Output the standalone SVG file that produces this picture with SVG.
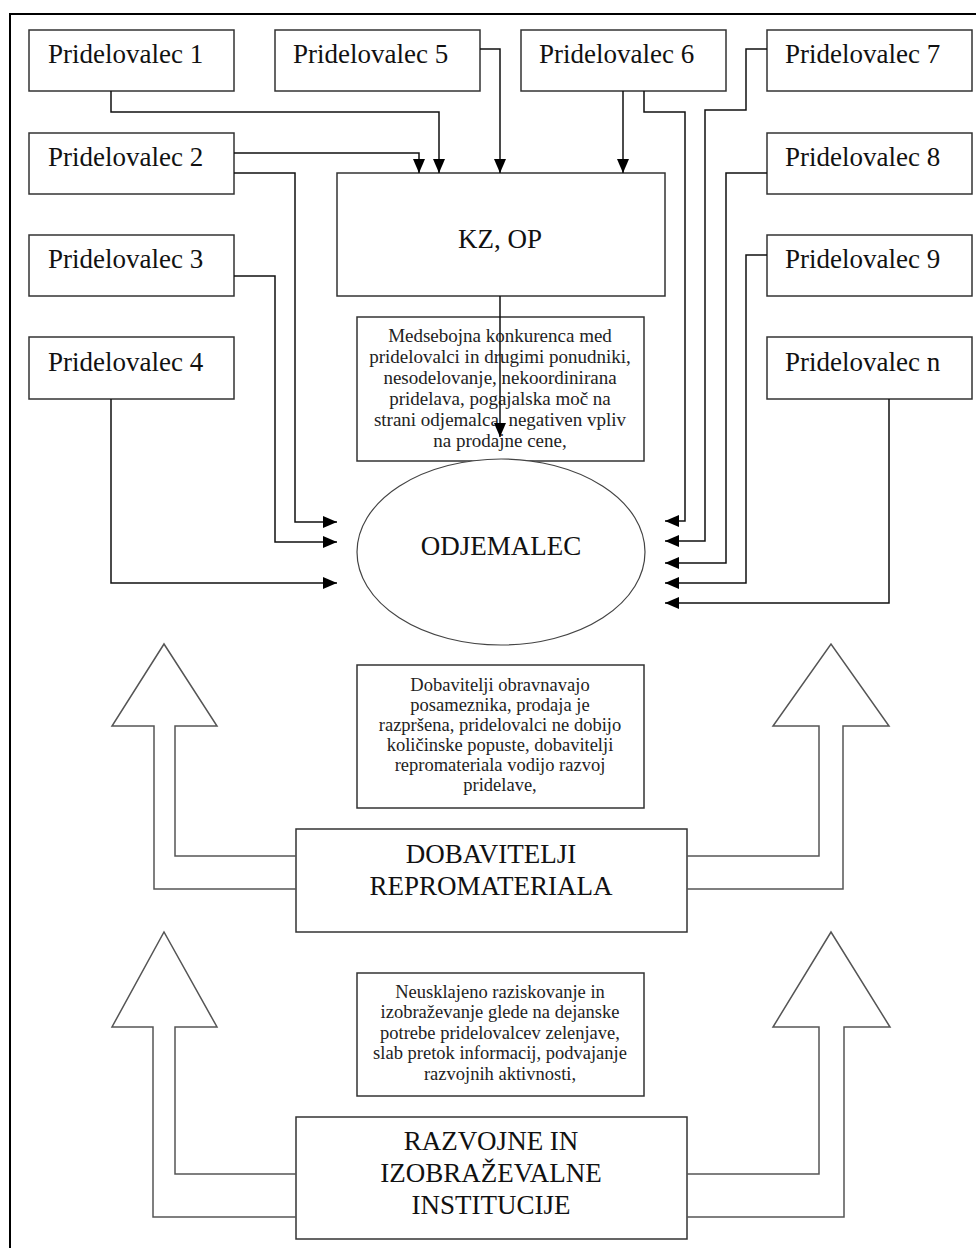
<svg xmlns="http://www.w3.org/2000/svg" width="976" height="1248" viewBox="0 0 976 1248">
<defs>
<style>
.box{fill:#fff;stroke:#333;stroke-width:1.5}
.big{fill:none;stroke:#555;stroke-width:1.5}
.con{fill:none;stroke:#111;stroke-width:1.5}
.t{font-family:"Liberation Serif","Times New Roman",serif;font-size:27px;fill:#111}
.s{font-family:"Liberation Serif","Times New Roman",serif;font-size:18.5px;fill:#222;text-anchor:middle}
.s1{font-size:19px}
.c{text-anchor:middle}
</style>
<marker id="ah" markerUnits="userSpaceOnUse" markerWidth="14" markerHeight="12" refX="14" refY="6" orient="auto">
<path d="M0,0 L14,6 L0,12 Z" fill="#000"/>
</marker>
</defs>
<rect width="976" height="1248" fill="#fff"/>
<path d="M10,1248 V14 H976" fill="none" stroke="#000" stroke-width="2"/>

<g id="p1"><rect class="box" x="29" y="30" width="205" height="61"/><text class="t" x="48" y="63">Pridelovalec 1</text></g>
<g id="p2"><rect class="box" x="29" y="133" width="205" height="61"/><text class="t" x="48" y="166">Pridelovalec 2</text></g>
<g id="p3"><rect class="box" x="29" y="235" width="205" height="61"/><text class="t" x="48" y="268">Pridelovalec 3</text></g>
<g id="p4"><rect class="box" x="29" y="337" width="205" height="62"/><text class="t" x="48" y="371">Pridelovalec 4</text></g>
<g id="p5"><rect class="box" x="275" y="30" width="205" height="61"/><text class="t" x="293" y="63">Pridelovalec 5</text></g>
<g id="p6"><rect class="box" x="521" y="30" width="205" height="61"/><text class="t" x="539" y="63">Pridelovalec 6</text></g>
<g id="p7"><rect class="box" x="767" y="30" width="205" height="61"/><text class="t" x="785" y="63">Pridelovalec 7</text></g>
<g id="p8"><rect class="box" x="767" y="133" width="205" height="61"/><text class="t" x="785" y="166">Pridelovalec 8</text></g>
<g id="p9"><rect class="box" x="767" y="235" width="205" height="61"/><text class="t" x="785" y="268">Pridelovalec 9</text></g>
<g id="pn"><rect class="box" x="767" y="337" width="205" height="62"/><text class="t" x="785" y="371">Pridelovalec n</text></g>

<g id="kzop"><rect class="box" x="337" y="173" width="328" height="123"/><text class="t c" x="500" y="248">KZ, OP</text></g>

<g id="note1"><rect class="box" x="357" y="317" width="287" height="144"/>
<text class="s s1"><tspan x="500" y="342">Medsebojna konkurenca med</tspan><tspan x="500" y="363">pridelovalci in drugimi ponudniki,</tspan><tspan x="500" y="384">nesodelovanje, nekoordinirana</tspan><tspan x="500" y="405">pridelava, pogajalska moč na</tspan><tspan x="500" y="426">strani odjemalca, negativen vpliv</tspan><tspan x="500" y="447">na prodajne cene,</tspan></text></g>

<g id="odjemalec"><ellipse cx="501" cy="552" rx="144" ry="93" fill="#fff" stroke="#444" stroke-width="1.2"/><text class="t c" x="501" y="555">ODJEMALEC</text></g>

<g id="note2"><rect class="box" x="357" y="665" width="287" height="143"/>
<text class="s"><tspan x="500" y="691">Dobavitelji obravnavajo</tspan><tspan x="500" y="711">posameznika, prodaja je</tspan><tspan x="500" y="731">razpršena, pridelovalci ne dobijo</tspan><tspan x="500" y="751">količinske popuste, dobavitelji</tspan><tspan x="500" y="771">repromateriala vodijo razvoj</tspan><tspan x="500" y="791">pridelave,</tspan></text></g>

<g id="dobavitelji"><rect class="box" x="296" y="829" width="391" height="103"/>
<text class="t c"><tspan x="491" y="863">DOBAVITELJI</tspan><tspan x="491" y="895">REPROMATERIALA</tspan></text></g>

<g id="note3"><rect class="box" x="357" y="973" width="287" height="123"/>
<text class="s"><tspan x="500" y="998">Neusklajeno raziskovanje in</tspan><tspan x="500" y="1018">izobraževanje glede na dejanske</tspan><tspan x="500" y="1039">potrebe pridelovalcev zelenjave,</tspan><tspan x="500" y="1059">slab pretok informacij, podvajanje</tspan><tspan x="500" y="1080">razvojnih aktivnosti,</tspan></text></g>

<g id="institucije"><rect class="box" x="296" y="1117" width="391" height="122"/>
<text class="t c"><tspan x="491" y="1150">RAZVOJNE IN</tspan><tspan x="491" y="1182">IZOBRAŽEVALNE</tspan><tspan x="491" y="1214">INSTITUCIJE</tspan></text></g>

<g id="connectors">
<path class="con" marker-end="url(#ah)" d="M111,91 V112 H439 V173"/>
<path class="con" marker-end="url(#ah)" d="M234,153 H419 V173"/>
<path class="con" marker-end="url(#ah)" d="M234,173 H295 V522 H337"/>
<path class="con" marker-end="url(#ah)" d="M234,276 H275 V542 H337"/>
<path class="con" marker-end="url(#ah)" d="M111,399 V583 H337"/>
<path class="con" marker-end="url(#ah)" d="M480,49 H500 V173"/>
<path class="con" marker-end="url(#ah)" d="M623,91 V173"/>
<path class="con" marker-end="url(#ah)" d="M644,91 V112 H685 V521 H665"/>
<path class="con" marker-end="url(#ah)" d="M767,49 H746 V110 H705 V541 H665"/>
<path class="con" marker-end="url(#ah)" d="M767,173 H726 V563 H665"/>
<path class="con" marker-end="url(#ah)" d="M767,255 H746 V583 H665"/>
<path class="con" marker-end="url(#ah)" d="M889,399 V603 H665"/>
<path class="con" marker-end="url(#ah)" d="M500,296 V437"/>
<path class="big" d="M296,856 H175 V726 H217 L164,644 L112,726 H154 V889 H296"/>
<path class="big" d="M687,856 H819 V726 H773 L831,644 L889,726 H843 V889 H687"/>
<path class="big" d="M296,1174 H175 V1027 H217 L164,932 L112,1027 H153 V1217 H296"/>
<path class="big" d="M687,1174 H819 V1027 H773 L831,932 L890,1027 H844 V1217 H687"/>
</g>
</svg>
